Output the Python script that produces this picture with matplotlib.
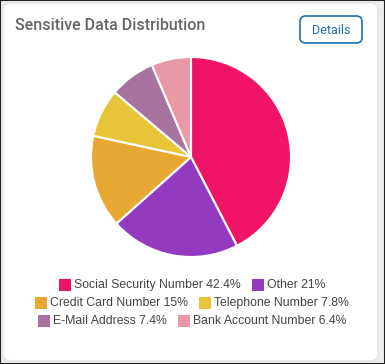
import matplotlib.pyplot as plt
from matplotlib.patches import FancyBboxPatch, Rectangle

W, H = 385, 364

title = "Sensitive Data Distribution"
button_label = "Details"
categories = ["Social Security Number", "Other", "Credit Card Number",
              "Telephone Number", "E-Mail Address", "Bank Account Number"]
shares = [42.4, 21, 15, 7.8, 7.4, 6.4]
share_labels = ["42.4%", "21%", "15%", "7.8%", "7.4%", "6.4%"]
colors = ["#f01366", "#923bc1", "#e8a834", "#e8c536", "#a8739f", "#e899a5"]
legend_rows = [[0, 1], [2, 3], [4, 5]]

fig = plt.figure(figsize=(W / 100, H / 100), dpi=100)
fig.patch.set_facecolor("#eceeee")


def fx(x):
    return x / W


def fy(y):
    return 1 - y / H


# outer frame and card
fig.patches.append(Rectangle((0, 0), 1, 1, transform=fig.transFigure,
                             fill=False, edgecolor="#222222", linewidth=1.5))
fig.patches.append(FancyBboxPatch((fx(3), fy(361)), fx(375), 358 / H,
                                  boxstyle="round,pad=0,rounding_size=0.02",
                                  transform=fig.transFigure, facecolor="white",
                                  edgecolor="#e2e4e4", linewidth=1))

fig.text(fx(15), fy(26), title, fontsize=11.5, color="#666666",
         fontweight="medium", family="Roboto", va="center", ha="left")

# Details button
fig.patches.append(FancyBboxPatch((fx(300), fy(43)), fx(62), 27 / H,
                                  boxstyle="round,pad=0,rounding_size=0.015",
                                  transform=fig.transFigure, facecolor="white",
                                  edgecolor="#1f6fb0", linewidth=1.2))
fig.text(fx(331), fy(30), button_label, fontsize=9, color="#1f6fb0",
         family="Roboto", va="center", ha="center")

# pie
cx, cy, r = 191, 157, 100
ax = fig.add_axes([fx(cx - r), fy(cy + r), 2 * r / W, 2 * r / H])
ax.set_zorder(3)
ax.pie(shares, colors=colors, startangle=90, counterclock=False,
       wedgeprops=dict(edgecolor="white", linewidth=1.5))
ax.set_xlim(-1, 1)
ax.set_ylim(-1, 1)
ax.axis("off")

# legend, each row centred
fig.canvas.draw()
renderer = fig.canvas.get_renderer()
row_y = [285, 303, 321]
box, gap_box, gap_item = 12, 3, 11
for y, row in zip(row_y, legend_rows):
    texts = []
    widths = []
    for i in row:
        t = fig.text(0, fy(y), f"{categories[i]} {share_labels[i]}", fontsize=8.8,
                     color="#444444", family="Liberation Sans", va="center", ha="left")
        texts.append(t)
        widths.append(t.get_window_extent(renderer).width)
    total = sum(box + gap_box + w for w in widths) + gap_item * (len(row) - 1)
    x = cx - total / 2 + 1
    for i, t, w in zip(row, texts, widths):
        fig.patches.append(Rectangle((fx(x), fy(y + box / 2)), box / W, box / H,
                                     transform=fig.transFigure, facecolor=colors[i],
                                     edgecolor="none"))
        t.set_x(fx(x + box + gap_box))
        x += box + gap_box + w + gap_item

fig.savefig("out.png", dpi=100)
